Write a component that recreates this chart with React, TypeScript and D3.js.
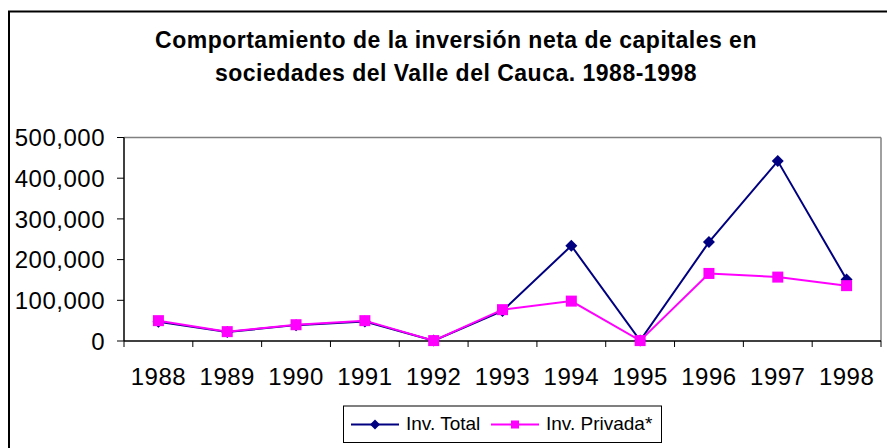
import * as d3 from "d3";

// chart data
const years = ["1988", "1989", "1990", "1991", "1992", "1993", "1994", "1995", "1996", "1997", "1998"];
const invTotal = [47000, 22000, 39000, 48000, 1000, 74000, 234000, 1000, 243000, 442000, 151000];
const invPrivada = [50000, 23000, 40000, 50000, 1000, 77000, 98000, 1000, 166000, 157000, 136000];
const yTicks = [0, 100000, 200000, 300000, 400000, 500000];
const titleLines = ["Comportamiento de la inversión neta de capitales en", "sociedades del Valle del Cauca. 1988-1998"];
const seriesNames = ["Inv. Total", "Inv. Privada*"];

const W = 887,
	H = 448;
const plot = { left: 124, right: 881, top: 137.5, bottom: 341 };
const navy = "#000080",
	pink = "#FF00FF";
const font = "'Liberation Sans', Arial, sans-serif";

const Diamond = ({ x, y, r }) => (
	<path d={`M${x},${y - r}L${x + r},${y}L${x},${y + r}L${x - r},${y}Z`} fill={navy} />
);

const Square = ({ x, y, s }) => <rect x={x - s / 2} y={y - s / 2} width={s} height={s} fill={pink} />;

export default function App() {
	const x = d3.scaleBand().domain(years).range([plot.left, plot.right]).padding(0);
	const y = d3.scaleLinear().domain([0, 500000]).range([plot.bottom, plot.top]);
	const fmt = d3.format(",");
	const cx = (yr) => x(yr) + x.bandwidth() / 2;

	const line = d3
		.line<number>()
		.x((_, i) => cx(years[i]))
		.y((d) => y(d));

	// tick marks sit on the boundaries between categories
	const bounds = years.map((yr) => x(yr)).concat([plot.right]);

	return (
		<svg width={W} height={H} style={{ position: "absolute", left: 0, top: 0 }} fontFamily={font}>
			<rect x={0} y={0} width={W} height={H} fill="#fff" />
			{/* outer chart frame, cut off on the right and bottom */}
			<rect x={9} y={11.5} width={W + 20} height={H + 20} fill="none" stroke="#000" strokeWidth={2} />

			{titleLines.map((t, i) => (
				<text key={i} x={456} y={48 + i * 33} textAnchor="middle" fontSize={23} fontWeight="bold" letterSpacing={0.5}>
					{t}
				</text>
			))}

			{/* plot area frame */}
			<line x1={plot.left} x2={plot.right} y1={plot.top} y2={plot.top} stroke="#808080" strokeWidth={1.5} />
			<line x1={plot.right} x2={plot.right} y1={plot.top} y2={plot.bottom} stroke="#808080" strokeWidth={1.5} />

			{/* y axis */}
			<line x1={plot.left} x2={plot.left} y1={plot.top} y2={plot.bottom} stroke="#000" strokeWidth={1.5} />
			{yTicks.map((t) => (
				<g key={t}>
					<line x1={plot.left - 7} x2={plot.left} y1={y(t)} y2={y(t)} stroke="#000" strokeWidth={1} />
					<text x={105} y={y(t)} dy="0.36em" textAnchor="end" fontSize={24} letterSpacing={0.5}>
						{fmt(t)}
					</text>
				</g>
			))}

			{/* x axis */}
			<line x1={plot.left} x2={plot.right} y1={plot.bottom} y2={plot.bottom} stroke="#000" strokeWidth={1.5} />
			{bounds.map((b, i) => (
				<line key={i} x1={b} x2={b} y1={plot.bottom} y2={plot.bottom + 6} stroke="#000" strokeWidth={1} />
			))}
			{years.map((yr) => (
				<text key={yr} x={cx(yr)} y={385} textAnchor="middle" fontSize={24} letterSpacing={0.5}>
					{yr}
				</text>
			))}

			{/* series */}
			<path d={line(invTotal)} fill="none" stroke={navy} strokeWidth={2} />
			{invTotal.map((v, i) => (
				<Diamond key={i} x={cx(years[i])} y={y(v)} r={6} />
			))}
			<path d={line(invPrivada)} fill="none" stroke={pink} strokeWidth={2} />
			{invPrivada.map((v, i) => (
				<Square key={i} x={cx(years[i])} y={y(v)} s={11} />
			))}

			{/* legend */}
			<rect x={343.5} y={406} width={318} height={36.5} fill="#fff" stroke="#000" strokeWidth={1} />
			<line x1={351} x2={399} y1={424.5} y2={424.5} stroke={navy} strokeWidth={2} />
			<Diamond x={375} y={424.5} r={5} />
			<text x={406} y={429.5} fontSize={19}>
				{seriesNames[0]}
			</text>
			<line x1={491} x2={539} y1={424.5} y2={424.5} stroke={pink} strokeWidth={2} />
			<Square x={515} y={424.5} s={8} />
			<text x={546} y={429.5} fontSize={19}>
				{seriesNames[1]}
			</text>
		</svg>
	);
}
